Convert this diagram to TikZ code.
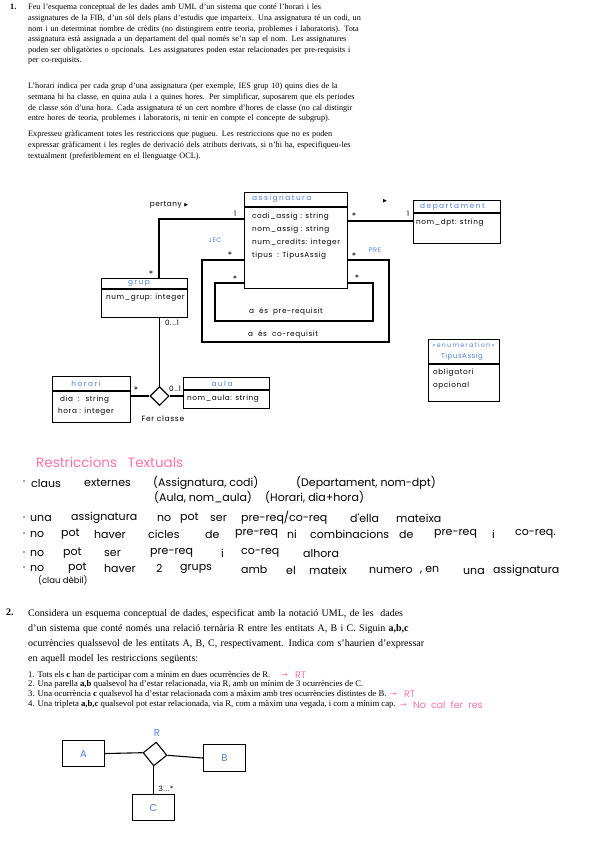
\documentclass[tikz,border=0pt]{standalone}
\usepackage{fontspec}
\setmainfont{Liberation Serif}
\newfontfamily\hand{Poppins}
\newfontfamily\handw[LetterSpace=8]{Poppins}
\newfontfamily\handt[LetterSpace=20]{Poppins}
\newfontfamily\symf{DejaVu Sans}
\usetikzlibrary{shapes.geometric}
\definecolor{ublue}{RGB}{80,128,235}
\definecolor{upink}{RGB}{255,112,168}
\begin{document}
\begin{tikzpicture}[x=1pt,y=-1pt,
  para/.style={anchor=north west, inner sep=0pt, align=left},
  hw/.style={font=\handw\fontsize{7.3}{8}\selectfont, inner sep=0pt},
  mult/.style={font=\hand\fontsize{9}{9}\selectfont, inner sep=0pt},
  ttl/.style={font=\handt\fontsize{7.4}{8}\selectfont, inner sep=0pt, text=ublue},
  umlbox/.style={draw, line width=1.1pt, anchor=north west, inner sep=0pt},
  conn/.style={line width=1.1pt},
  rw/.style={font=\hand\fontsize{11}{12}\selectfont, inner sep=0pt, anchor=west},
  bul/.style={circle, fill=black!70, inner sep=0pt, minimum size=1.6pt},
  pk/.style={font=\hand\fontsize{9.5}{11}\selectfont, inner sep=0pt, anchor=west, text=upink},
  pkarrow/.style={font=\symf\fontsize{8}{9}\selectfont, inner sep=0pt, anchor=west, text=upink},
  ent/.style={draw, line width=1.1pt, anchor=north west, inner sep=0pt, minimum width=42pt, text=ublue, font=\hand\fontsize{10}{12}\selectfont}
]
\useasboundingbox (0,0) rectangle (599,848);
\fill[white] (0,0) rectangle (599,848);

% ---------------- Section 1 text
\node[para, font=\bfseries\fontsize{8.2}{10.6}\selectfont] (n1) at (10,4) {1.};
\node[para, text width=359pt, font=\fontsize{8.2}{10.6}\selectfont] (p1) at (28,4) {%
\makebox[\linewidth][s]{Feu l'esquema conceptual de les dades amb UML d'un sistema que conté l'horari i les}\\
\makebox[\linewidth][s]{assignatures de la FIB, d'un sòl dels plans d'estudis que imparteix. Una assignatura té un codi, un}\\
\makebox[\linewidth][s]{nom i un determinat nombre de crèdits (no distingirem entre teoria, problemes i laboratoris). Tota}\\
\makebox[\linewidth][s]{assignatura està assignada a un departament del qual només se'n sap el nom. Les assignatures}\\
\makebox[\linewidth][s]{poden ser obligatòries o opcionals. Les assignatures poden estar relacionades per pre-requisits i}\\
per co-requisits.};
\node[para, text width=359pt, font=\fontsize{8.2}{10.6}\selectfont] (p2) at (28,83) {%
\makebox[\linewidth][s]{L'horari indica per cada grup d'una assignatura (per exemple, IES grup 10) quins dies de la}\\
\makebox[\linewidth][s]{setmana hi ha classe, en quina aula i a quines hores. Per simplificar, suposarem que els periodes}\\
\makebox[\linewidth][s]{de classe són d'una hora. Cada assignatura té un cert nombre d'hores de classe (no cal distingir}\\
entre hores de teoria, problemes i laboratoris, ni tenir en compte el concepte de subgrup).};
\node[para, text width=359pt, font=\fontsize{8.2}{10.6}\selectfont] (p3) at (28,131) {%
\makebox[\linewidth][s]{Expresseu gràficament totes les restriccions que pugueu. Les restriccions que no es poden}\\
\makebox[\linewidth][s]{expressar gràficament i les regles de derivació dels atributs derivats, si n'hi ha, especifiqueu-les}\\
textualment (preferiblement en el llenguatge OCL).};

% ---------------- UML classes
\node[umlbox, minimum width=103pt, minimum height=96pt] (asg) at (244,192) {};
\draw[conn] (asg.west |- 0,207) -- (asg.east |- 0,207);
\node[ttl, anchor=west] (asgT) at (252,199) {assignatura};
\node[hw, anchor=west] (asgA1) at (252,217) {codi\_assig : string};
\node[hw, anchor=west] (asgA2) at (252,230) {nom\_assig : string};
\node[hw, anchor=west] (asgA3) at (252,243) {num\_credits: integer};
\node[hw, anchor=west] (asgA4) at (252,256) {tipus \ : TipusAssig};

\node[umlbox, minimum width=87pt, minimum height=43pt] (dep) at (413,200) {};
\draw[conn] (dep.west |- 0,213) -- (dep.east |- 0,213);
\node[ttl, anchor=west] (depT) at (420,207) {departament};
\node[hw, anchor=west] (depA1) at (416,223) {nom\_dpt: string};

\node[umlbox, minimum width=86pt, minimum height=39pt] (grp) at (101,278) {};
\draw[conn] (grp.west |- 0,289) -- (grp.east |- 0,289);
\node[ttl] (grpT) at (139,283.5) {grup};
\node[hw, anchor=west] (grpA1) at (106,298) {num\_grup: integer};

\node[umlbox, minimum width=78pt, minimum height=46pt] (hor) at (52,376) {};
\draw[conn] (hor.west |- 0,391) -- (hor.east |- 0,391);
\node[ttl] (horT) at (86,383.5) {horari};
\node[hw, anchor=west] (horA1) at (60,400) {dia \ : \ string};
\node[hw, anchor=west] (horA2) at (58,412) {hora : integer};

\node[umlbox, minimum width=86pt, minimum height=31pt] (aul) at (183,377) {};
\draw[conn] (aul.west |- 0,390) -- (aul.east |- 0,390);
\node[ttl] (aulT) at (222,383.5) {aula};
\node[hw, anchor=west] (aulA1) at (187,399) {nom\_aula: string};

\node[umlbox, minimum width=71pt, minimum height=62pt] (tip) at (428,339) {};
\draw[conn] (tip.west |- 0,364) -- (tip.east |- 0,364);
\node[ttl, font=\handt\fontsize{6.3}{7}\selectfont] (tipS) at (463.5,345.5) {«enumeration»};
\node[ttl, font=\handw\fontsize{7}{7}\selectfont] (tipT) at (462,357) {TipusAssig};
\node[hw, anchor=west] (tipV1) at (433,373) {obligatori};
\node[hw, anchor=west] (tipV2) at (433,386) {opcional};

% ---------------- associations
\draw[conn] (asg.west |- 0,219) -| (grp.north -| 159,0);
\node[hw] (m1) at (235,214) {1};
\node[mult] (m2) at (151,274) {*};
\node[hw] (pert) at (169,205) {pertany {\symf\fontsize{5}{6}\selectfont ▶}};

\draw[conn] (asg.east |- 0,221) -- (dep.west |- 0,221);
\node[mult] (m3) at (354,216) {*};
\node[hw] (m4) at (408,214) {1};
\node[font=\symf\fontsize{5}{6}\selectfont, inner sep=0pt] (tri) at (385,201) {▶};

% co-requisit (outer loop)
\coordinate (coL) at (202,342);
\coordinate (coR) at (389,342);
\draw[conn] (asg.west |- 0,260) -| (coL) -- (coR) |- (asg.east |- 0,260);
% pre-requisit (inner loop)
\coordinate (prL) at (215,321);
\coordinate (prR) at (373,321);
\draw[conn] (asg.west |- 0,283) -| (prL) -- (prR) |- (asg.east |- 0,283);

\node[ttl, font=\handw\fontsize{6.6}{7}\selectfont] (jec) at (215,240) {JEC};
\node[ttl, font=\handw\fontsize{6.6}{7}\selectfont] (pre) at (375,250) {PRE};
\node[mult] (m5) at (230,255) {*};
\node[mult] (m6) at (354,256) {*};
\node[mult] (m7) at (235,279) {*};
\node[mult] (m8) at (357,278) {*};
\node[hw] (lpre) at (286,312) {a \ és \ pre-requisit};
\node[hw] (lco) at (283,335) {a \ és \ co-requisit};

% Fer classe (ternary)
\node[diamond, draw, line width=1.1pt, fill=white, inner sep=0pt, minimum width=19pt, minimum height=19pt] (fc) at (159.5,396) {};
\draw[conn] (grp.south -| fc.north) -- (fc.north);
\draw[conn] (hor.east |- fc.west) -- (fc.west);
\draw[conn] (fc.east) -- (fc.east -| aul.west);
\node[hw] (m9) at (172,323) {0...1};
\node[mult] (m10) at (136,390) {*};
\node[hw] (m11) at (175,389) {0..1};
\node[hw, font=\handw\fontsize{7.6}{8}\selectfont] (fcl) at (163,419) {Fer classe};

% ---------------- Restriccions textuals
\node[pk, font=\hand\fontsize{13.5}{15}\selectfont] (rt) at (36,462) {Restriccions \ \ Textuals};
\foreach \y in {481,517,533,552,567}{ \node[bul] (dot\y) at (24,\y) {}; }
\foreach \x/\w [count=\i] in {31/claus, 84/externes, 153/{(Assignatura, codi)}, 296/{(Departament, nom-dpt)}}
  \node[rw] (ra\i) at (\x,483) {\w};
\foreach \x/\w [count=\i] in {154/{(Aula, nom\_aula)}, 265/{(Horari, dia+hora)}}
  \node[rw] (rb\i) at (\x,497) {\w};
\foreach \x/\w [count=\i] in {30/una, 71/assignatura, 157/no, 180/pot, 210/ser, 241/{pre-req/co-req}, 350/d'ella, 396/mateixa}
  \node[rw] (rc\i) at (\x,518) {\w};
\foreach \x/\w [count=\i] in {30/no, 61/pot, 94/haver, 148/cicles, 205/de, 235/pre-req, 287/ni, 310/combinacions, 399/de, 434/pre-req, 492/i, 515/co-req.}
  \node[rw] (rd\i) at (\x,534) {\w};
\foreach \x/\w [count=\i] in {30/no, 63/pot, 104/ser, 150/pre-req, 221/i, 241/co-req, 303/alhora}
  \node[rw] (re\i) at (\x,553) {\w};
\foreach \x/\w/\yy [count=\i] in {30/no/568, 68/pot/568, 104/haver/568, 156/2/568.5, 180/grups/569, 241/amb/569.5, 286/el/570, 309/mateix/570, 369/numero/570, 420/{, en}/570.5, 463/una/571, 493/assignatura/571}
  \node[rw] (rf\i) at (\x,\yy) {\w};
\node[rw, font=\hand\fontsize{8.5}{10}\selectfont] (rg) at (38,580) {(clau dèbil)};

% ---------------- Section 2 text
\node[para, font=\bfseries\fontsize{10}{15}\selectfont] (n2) at (6,609) {2.};
\node[para, text width=394pt, font=\fontsize{10}{15}\selectfont] (q1) at (28,609) {%
\makebox[\linewidth][s]{Considera un esquema conceptual de dades, especificat amb la notació UML, de les \ dades}\\
\makebox[\linewidth][s]{d'un sistema que conté només una relació ternària R entre les entitats A, B i C. Siguin \textbf{a,b,c}}\\
\makebox[\linewidth][s]{ocurrències qualssevol de les entitats A, B, C, respectivament. Indica com s'haurien d'expressar}\\
en aquell model les restriccions següents:};
\node[para, font=\fontsize{8.7}{9.6}\selectfont] (q2) at (28,671) {%
1. Tots els \textbf{c} han de participar com a mínim en dues ocurrències de R.\\
2. Una parella \textbf{a,b} qualsevol ha d'estar relacionada, via R, amb un mínim de 3 ocurrències de C.\\
3. Una ocurrència \textbf{c} qualsevol ha d'estar relacionada com a màxim amb tres ocurrències distintes de B.\\
4. Una tripleta \textbf{a,b,c} qualsevol pot estar relacionada, via R, com a màxim una vegada, i com a mínim cap.};
\node[pkarrow] (ar1) at (281,675.5) {→};
\node[pk] (t1) at (295,675) {RT};
\node[pkarrow] (ar3) at (390,694.5) {→};
\node[pk] (t3) at (404,694) {RT};
\node[pkarrow] (ar4) at (400,705) {→};
\node[pk] (t4) at (413,705) {No \ cal \ fer \ res};

% ---------------- ternary diagram
\node[ent, minimum height=26pt] (A) at (62,740) {A};
\node[ent, minimum height=27pt] (B) at (203,744) {B};
\node[ent, minimum height=26pt] (C) at (132,794) {C};
\node[diamond, draw, line width=1.1pt, inner sep=0pt, minimum width=24pt, minimum height=24pt, rotate=-6] (R) at (155,754) {};
\node[ttl, font=\hand\fontsize{10}{12}\selectfont] (Rl) at (157,733) {R};
\draw[conn] (A.east) -- (R.west);
\draw[conn] (R.east) -- (B.west);
\draw[conn] (R.south) -- (R.south |- C.north);
\node[hw] (m12) at (166,789) {3...*};
\end{tikzpicture}
\end{document}
